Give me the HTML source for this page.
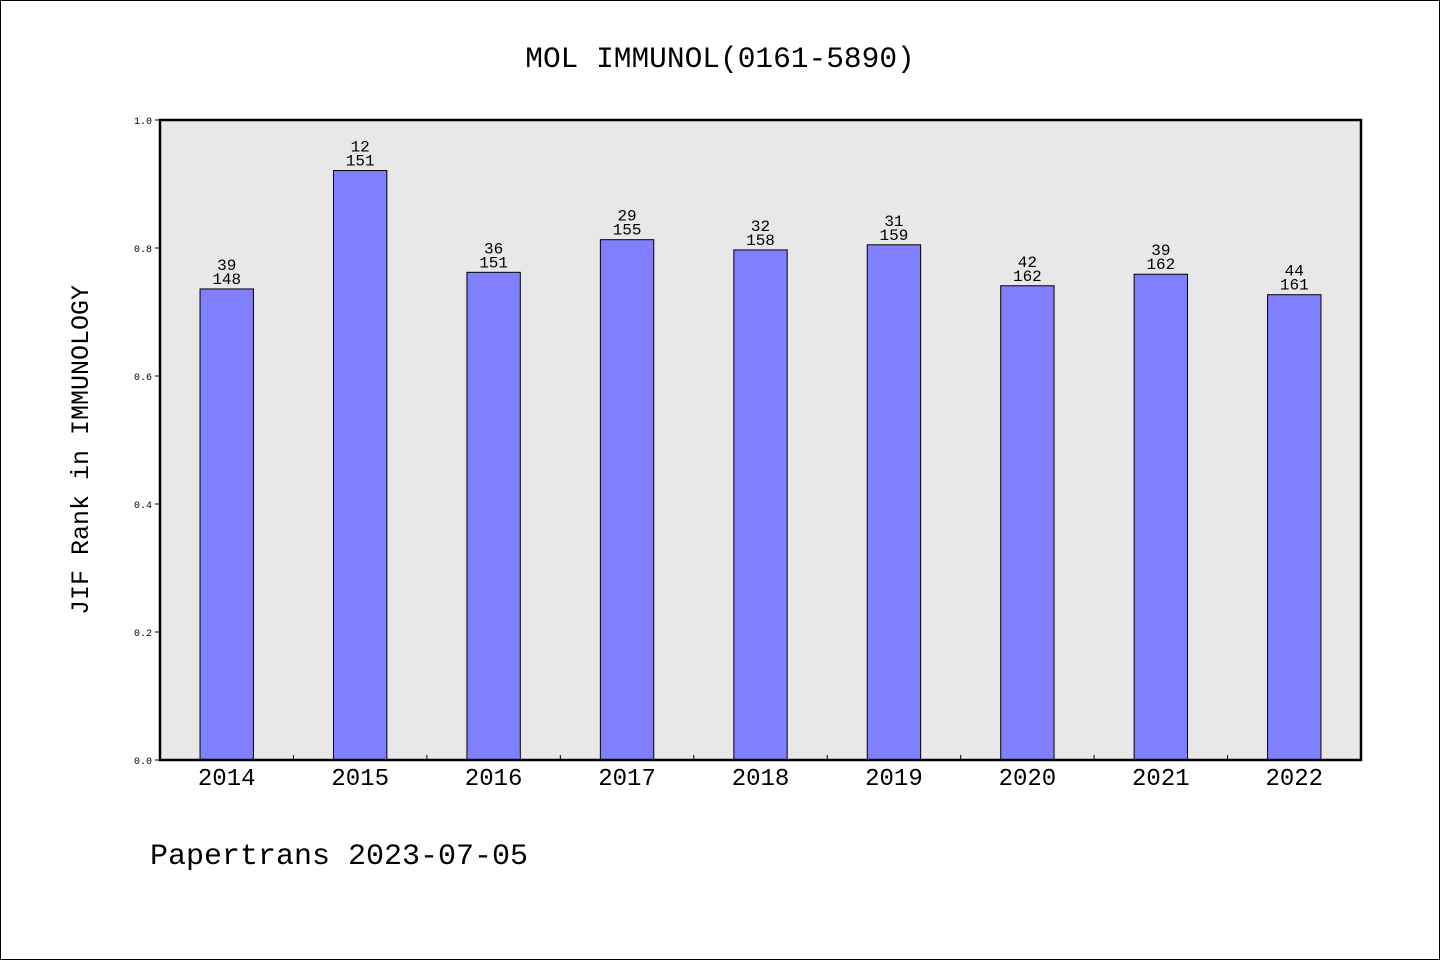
<!DOCTYPE html>
<html><head><meta charset="utf-8"><style>
body{margin:0;background:#fff}
svg{display:block;font-family:"Liberation Mono","WenQuanYi Zen Hei",monospace}
</style></head><body>
<svg id="chart" width="1440" height="960">
<rect x="0.5" y="0.5" width="1439" height="959" fill="#fff" stroke="#000"/>
<text x="720" y="67" text-anchor="middle" font-size="29.5">MOL IMMUNOL(0161-5890)</text>
<rect x="160" y="120" width="1201" height="640" fill="#e8e8e8"/>
<g id="bars"></g>
<g id="yaxis"></g>
<g id="xaxis"></g>
<rect x="160" y="120" width="1201" height="640" fill="none" stroke="#000" stroke-width="2.5"/>
<text transform="translate(88,450) rotate(-90)" text-anchor="middle" font-size="25">JIF Rank in IMMUNOLOGY</text>
<text x="150" y="864" font-size="30">Papertrans 2023-07-05</text>
</svg>
<script>
const categories=["2014","2015","2016","2017","2018","2019","2020","2021","2022"];
const values=[0.736,0.921,0.762,0.813,0.797,0.805,0.741,0.759,0.727];
const ranks=["39","12","36","29","32","31","42","39","44"];
const totals=["148","151","151","155","158","159","162","162","161"];
const yTicks=[0,0.2,0.4,0.6,0.8,1.0];
const yTickLabels=["0.0","0.2","0.4","0.6","0.8","1.0"];
const NS="http://www.w3.org/2000/svg";
const X0=160,W=1201,Y0=760,H=640;
const slot=W/categories.length;
const y=v=>Y0-v*H;
const xc=i=>X0+slot*(i+0.5);
function mk(t,a,p){const e=document.createElementNS(NS,t);for(const k in a)e.setAttribute(k,a[k]);p.appendChild(e);return e;}
const bars=document.getElementById('bars'),ya=document.getElementById('yaxis'),xa=document.getElementById('xaxis');
categories.forEach((c,i)=>{
 const bw=slot*0.4,top=y(values[i]);
 const r=mk('rect',{x:xc(i)-bw/2,y:top,width:bw,height:Y0-top,fill:'#8080ff',stroke:'#000','stroke-width':1},bars);
 
 
 const t1=mk('text',{x:xc(i),y:top-19,'text-anchor':'middle','font-size':16},bars);t1.textContent=ranks[i];
 
 
 const t2=mk('text',{x:xc(i),y:top-5,'text-anchor':'middle','font-size':16},bars);t2.textContent=totals[i];
 
 
 const xl=mk('text',{x:xc(i),y:785,'text-anchor':'middle','font-size':24},xa);xl.textContent=c;
 
 
 if(i>0){const tk=mk('line',{x1:X0+slot*i,x2:X0+slot*i,y1:Y0,y2:Y0-5,stroke:'#000'},xa);
 
 }
});
yTicks.forEach((v,i)=>{
 const l=mk('line',{x1:X0-5,x2:X0,y1:y(v),y2:y(v),stroke:'#000'},ya);
 
 
 const t=mk('text',{x:X0-8,y:y(v)+4,'text-anchor':'end','font-size':10},ya);t.textContent=yTickLabels[i];
 
 
});
</script>
</body></html>
